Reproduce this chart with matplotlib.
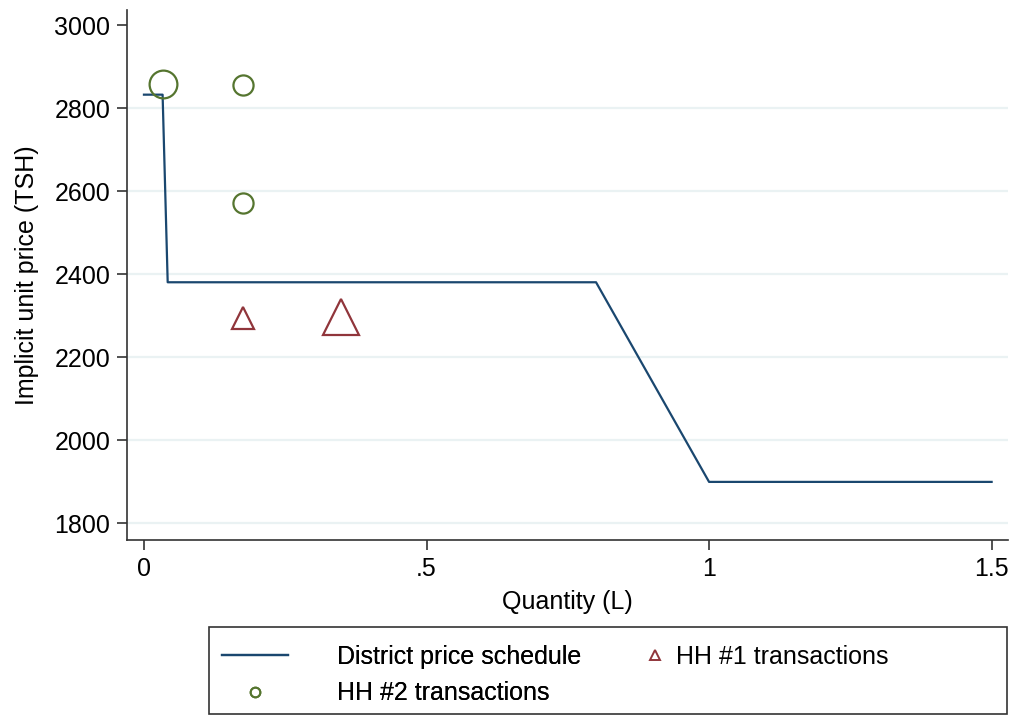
import matplotlib
matplotlib.use("Agg")
import matplotlib.pyplot as plt
from matplotlib.lines import Line2D
from matplotlib.patches import Rectangle

plt.rcParams['font.family'] = ['Liberation Sans', 'DejaVu Sans']

# district price schedule
sched_q = [0, 0.033, 0.042, 0.80, 1.0, 1.5]
sched_p = [2833, 2833, 2381, 2381, 1900, 1900]

# household transactions (marker size ~ frequency)
hh1_q = [0.1745, 0.349]
hh1_p = [2295, 2297]
hh1_size = [16, 26]
hh2_q = [0.033, 0.1745, 0.1745]
hh2_p = [2858, 2857, 2572]
hh2_size = [20, 14.5, 14.5]

x_ticks = [0, 0.5, 1, 1.5]
x_labels = ['0', '.5', '1', '1.5']
y_ticks = [1800, 2000, 2200, 2400, 2600, 2800, 3000]

navy = '#1a476f'
maroon = '#90353b'
green = '#55752f'
fs = 18

W, H = 1016, 715
fig = plt.figure(figsize=(W / 100, H / 100), dpi=100)
ax = fig.add_axes([127 / W, 1 - 540 / H, (1008 - 127) / W, (540 - 10) / H])

for y in y_ticks[:-1]:
    ax.axhline(y, color='#eaf2f3', lw=1.6, zorder=0)

ax.plot(sched_q, sched_p, color=navy, lw=1.6, zorder=2)
for q, p, s in zip(hh1_q, hh1_p, hh1_size):
    ax.plot(q, p, marker='^', ms=s, mfc='none', mec=maroon, mew=1.6, ls='none', zorder=3)
for q, p, s in zip(hh2_q, hh2_p, hh2_size):
    ax.plot(q, p, marker='o', ms=s, mfc='none', mec=green, mew=1.6, ls='none', zorder=3)

ax.set_xlim(-0.03, 1.529)
ax.set_ylim(1760, 3037)
ax.set_xticks(x_ticks)
ax.set_xticklabels(x_labels)
ax.set_yticks(y_ticks)
ax.spines['top'].set_visible(False)
ax.spines['right'].set_visible(False)
for sp in ('left', 'bottom'):
    ax.spines[sp].set_color('#333333')
    ax.spines[sp].set_linewidth(1.2)
ax.tick_params(direction='out', length=7, width=1.2, color='#333333', labelsize=fs, pad=5)
ax.set_xlabel('Quantity (L)', fontsize=fs, labelpad=7)
ax.set_ylabel('Implicit unit price (TSH)', fontsize=fs, labelpad=11)

# legend: two frameless pieces inside one box
line_h = Line2D([], [], color=navy, lw=1.6)
circ_h = Line2D([], [], marker='o', ms=7, mfc='none', mec=green, mew=1.4, ls='none')
tri_h = Line2D([], [], marker='^', ms=7, mfc='none', mec=maroon, mew=1.4, ls='none')

top = 1 - 645 / H
leg1 = fig.legend([line_h, circ_h], ['District price schedule', 'HH #2 transactions'],
                  loc='upper left', bbox_to_anchor=(222 / W, top), frameon=False,
                  fontsize=fs, handlelength=2.65, handletextpad=1.95,
                  labelspacing=0.5, borderpad=0, borderaxespad=0)
leg2 = fig.legend([tri_h], ['HH #1 transactions'],
                  loc='upper left', bbox_to_anchor=(645 / W, top), frameon=False,
                  fontsize=fs, handlelength=0.8, handletextpad=0.45,
                  borderpad=0, borderaxespad=0)
fig.add_artist(leg1)
fig.patches.append(Rectangle((209 / W, 1 / H), (1007 - 209) / W, (714 - 627) / H,
                             transform=fig.transFigure, fill=False,
                             edgecolor='#333333', lw=1.2))

fig.savefig('out.png', dpi=100)
